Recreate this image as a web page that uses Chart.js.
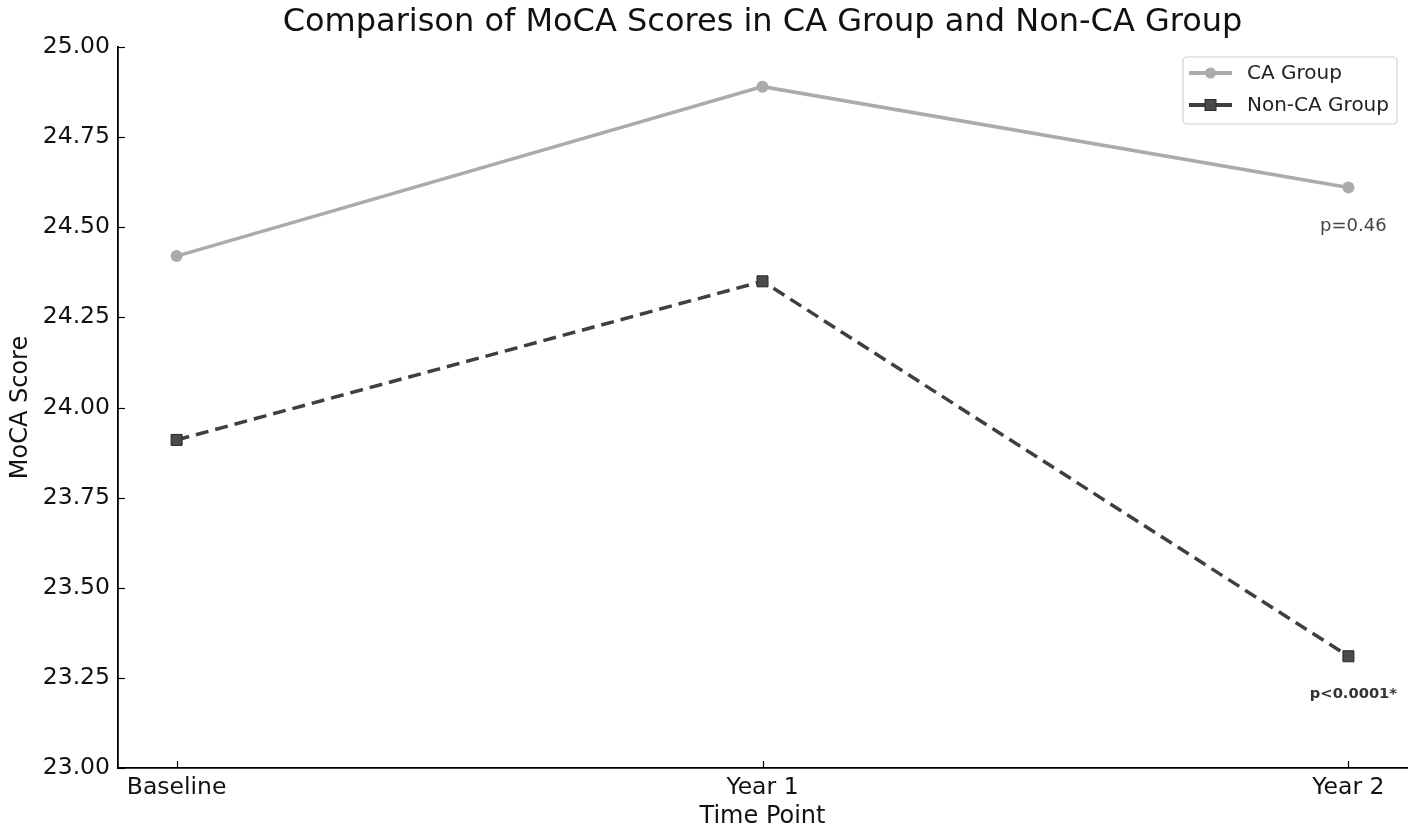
<!DOCTYPE html>
<html>
<head>
<meta charset="utf-8">
<script src="https://cdn.jsdelivr.net/npm/chart.js@4"></script>
<style>
  html, body { margin: 0; padding: 0; background: #fff; }
  #wrap { width: 1417px; height: 834px; }
</style>
</head>
<body>
<div id="wrap"><canvas id="moca"></canvas></div>
<script>
const timePoints = ['Baseline', 'Year 1', 'Year 2']
const caScores = [24.42, 24.89, 24.61]
const nonCaScores = [23.91, 24.35, 23.31]
const yTicks = [23.00, 23.25, 23.50, 23.75, 24.00, 24.25, 24.50, 24.75, 25.00]
const pLabels = ['p=0.46', 'p<0.0001*']

const FONT = 'DejaVu Sans'

const toPoints = (arr) => arr.map((v, i) => ({ x: i, y: v }))

// title, legend, inward ticks and p-value notes
const extras = {
  id: 'extras',
  afterDraw (chart) {
    const { ctx, chartArea, scales } = chart
    const xs = scales.x, ys = scales.y
    ctx.save()

    // title centred over the plot area
    ctx.fillStyle = '#111'
    ctx.font = '32px "' + FONT + '"'
    ctx.textAlign = 'center'
    ctx.textBaseline = 'middle'
    ctx.fillText('Comparison of MoCA Scores in CA Group and Non-CA Group', (chartArea.left + chartArea.right) / 2, 23)

    // inward tick marks
    ctx.strokeStyle = '#000'
    ctx.lineWidth = 1.2
    yTicks.forEach(t => {
      const py = Math.round(ys.getPixelForValue(t)) + 0.5
      ctx.beginPath()
      ctx.moveTo(chartArea.left, py)
      ctx.lineTo(chartArea.left + 7, py)
      ctx.stroke()
    })
    timePoints.forEach((t, i) => {
      const px = Math.round(xs.getPixelForValue(i)) + 0.5
      ctx.beginPath()
      ctx.moveTo(px, chartArea.bottom)
      ctx.lineTo(px, chartArea.bottom - 7)
      ctx.stroke()
    })

    // p-value notes under the Year 2 points
    const lastX = xs.getPixelForValue(timePoints.length - 1)
    ctx.textAlign = 'center'
    ctx.fillStyle = '#444'
    ctx.font = '18px "' + FONT + '"'
    ctx.fillText(pLabels[0], lastX + 5, ys.getPixelForValue(caScores[2]) + 39)
    ctx.fillStyle = '#333'
    ctx.font = 'bold 14.7px "' + FONT + '"'
    ctx.fillText(pLabels[1], lastX + 5, ys.getPixelForValue(nonCaScores[2]) + 38)

    // legend box, upper right
    const bx = 1183, by = 57, bw = 214, bh = 67
    ctx.strokeStyle = '#d0d0d0'
    ctx.lineWidth = 1.2
    ctx.fillStyle = 'rgba(255,255,255,0.85)'
    ctx.beginPath()
    ctx.roundRect(bx, by, bw, bh, 4)
    ctx.fill()
    ctx.stroke()
    const rows = [73, 105]
    chart.data.datasets.forEach((ds, i) => {
      const ry = rows[i]
      ctx.strokeStyle = ds.borderColor
      ctx.lineWidth = 4
      ctx.setLineDash([])
      ctx.beginPath()
      ctx.moveTo(1189, ry)
      ctx.lineTo(1232, ry)
      ctx.stroke()
      ctx.fillStyle = ds.pointBackgroundColor
      if (ds.pointStyle === 'circle') {
        ctx.beginPath()
        ctx.arc(1210.5, ry, 5.5, 0, Math.PI * 2)
        ctx.fill()
      } else {
        ctx.fillRect(1205, ry - 5.5, 11, 11)
        ctx.strokeStyle = ds.pointBorderColor
        ctx.lineWidth = 1
        ctx.strokeRect(1205, ry - 5.5, 11, 11)
      }
      ctx.fillStyle = '#222'
      ctx.font = '20px "' + FONT + '"'
      ctx.textAlign = 'left'
      ctx.fillText(ds.label, 1247, ry + 1)
    })
    ctx.restore()
  }
}

const ctx = document.querySelector('#moca')
const mocaChart = new Chart(ctx, {
  type: 'line',
  data: {
    datasets: [
      {
        label: 'CA Group',
        data: toPoints(caScores),
        borderColor: '#ababab',
        borderWidth: 3.5,
        pointStyle: 'circle',
        pointRadius: 6,
        pointBackgroundColor: '#ababab',
        pointBorderColor: '#ababab',
        pointBorderWidth: 0,
        tension: 0,
        fill: false
      },
      {
        label: 'Non-CA Group',
        data: toPoints(nonCaScores),
        borderColor: '#3f3f3f',
        borderWidth: 3.5,
        borderDash: [13, 7],
        pointStyle: 'rect',
        pointRadius: 7.8,
        pointBackgroundColor: '#4a4a4a',
        pointBorderColor: '#2a2a2a',
        pointBorderWidth: 1,
        tension: 0,
        fill: false
      }
    ]
  },
  options: {
    responsive: true,
    maintainAspectRatio: false,
    animation: false,
    layout: { padding: { top: 47, right: 10, left: 0, bottom: 0 } },
    plugins: {
      legend: { display: false },
      title: { display: false },
      tooltip: { enabled: false }
    },
    scales: {
      x: {
        type: 'linear',
        min: -0.1,
        max: 2.1,
        afterFit: (scale) => { scale.height = 66 },
        afterBuildTicks: (scale) => { scale.ticks = timePoints.map((t, i) => ({ value: i })) },
        grid: { drawOnChartArea: false, drawTicks: false },
        border: { color: '#000', width: 1.8 },
        ticks: {
          callback: (v) => timePoints[v],
          font: { family: FONT, size: 23.5 },
          color: '#111',
          padding: 6,
          maxRotation: 0,
          autoSkip: false
        },
        title: {
          display: true,
          text: 'Time Point',
          font: { family: FONT, size: 24 },
          color: '#111',
          padding: { top: 0, bottom: 3 }
        }
      },
      y: {
        min: 23,
        max: 25,
        afterFit: (scale) => { scale.width = 118 },
        afterBuildTicks: (scale) => { scale.ticks = yTicks.map(v => ({ value: v })) },
        grid: { drawOnChartArea: false, drawTicks: false },
        border: { color: '#000', width: 1.8 },
        ticks: {
          callback: (v) => v.toFixed(2),
          font: { family: FONT, size: 23.5 },
          color: '#111',
          padding: 8
        },
        title: {
          display: true,
          text: 'MoCA Score',
          font: { family: FONT, size: 24 },
          color: '#111',
          padding: { top: 6, bottom: 0 }
        }
      }
    }
  },
  plugins: [extras]
})
</script>
</body>
</html>
